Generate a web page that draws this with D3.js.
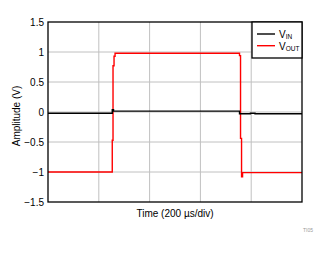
<!DOCTYPE html>
<html>
<head>
<meta charset="utf-8">
<script src="https://cdn.jsdelivr.net/npm/d3@7"></script>
<style>
  body { margin: 0; background: #fff; }
  text { font-family: "Liberation Sans", Arial, sans-serif; }
</style>
</head>
<body>
<div class="viz"></div>
<script>
const width = 335;
const height = 254;

// time in us, amplitude in V
const vinTime = [0, 253, 253, 258, 258, 754, 754, 797, 797, 815, 815, 1000];
const vinAmp = [-0.02, -0.02, 0.04, 0.04, 0.015, 0.015, -0.03, -0.03, -0.02, -0.02, -0.03, -0.03];
const voutTime = [0, 253, 253, 256, 256, 260, 260, 264, 264, 754, 754, 758, 758, 762, 762, 766, 766, 1000];
const voutAmp = [-1, -1, -0.47, -0.47, 0.77, 0.77, 0.93, 0.93, 0.98, 0.98, 0.94, 0.94, -0.44, -0.44, -1.08, -1.08, -1.01, -1.01];
const yTicks = [-1.5, -1, -0.5, 0, 0.5, 1, 1.5];
const xTicks = [0, 200, 400, 600, 800, 1000];

const margin = { left: 48, right: 33, top: 22, bottom: 52 };

const svg = d3.select(".viz")
    .append("svg")
    .attr("width", width)
    .attr("height", height);

const x = d3.scaleLinear().domain([0, 1000]).range([margin.left, width - margin.right]);
const y = d3.scaleLinear().domain([-1.5, 1.5]).range([height - margin.bottom, margin.top]);

// grid
svg.selectAll(".vgrid")
    .data(xTicks.slice(1, -1))
    .enter().append("line")
    .attr("x1", d => x(d)).attr("x2", d => x(d))
    .attr("y1", y(1.5)).attr("y2", y(-1.5))
    .style("stroke", "#c0c0c0").style("stroke-width", 1);

svg.selectAll(".hgrid")
    .data(yTicks.slice(1, -1))
    .enter().append("line")
    .attr("x1", x(0)).attr("x2", x(1000))
    .attr("y1", d => y(d)).attr("y2", d => y(d))
    .style("stroke", "#c0c0c0").style("stroke-width", 1);

// y axis labels
const yAxis = d3.axisLeft(y).tickValues(yTicks).tickSize(0).tickPadding(4).tickFormat(d3.format("~g"));
const ya = svg.append("g").attr("transform", `translate(${x(0)},0)`).call(yAxis);
ya.select(".domain").remove();
ya.selectAll("text").style("font-size", "10px").style("fill", "#000")
    .style("font-family", "'Liberation Sans', Arial, sans-serif");

const line = d3.line().x(d => x(d[0])).y(d => y(d[1]));

svg.append("path")
    .datum(voutTime.map((t, i) => [t, voutAmp[i]]))
    .attr("d", line)
    .style("fill", "none").style("stroke", "#ff0000").style("stroke-width", 1.4);

svg.append("path")
    .datum(vinTime.map((t, i) => [t, vinAmp[i]]))
    .attr("d", line)
    .style("fill", "none").style("stroke", "#000").style("stroke-width", 1.4);

// frame
svg.append("rect")
    .attr("x", x(0)).attr("y", y(1.5))
    .attr("width", x(1000) - x(0)).attr("height", y(-1.5) - y(1.5))
    .style("fill", "none").style("stroke", "#000").style("stroke-width", 1.3);

// legend
const lg = svg.append("g");
lg.append("rect")
    .attr("x", 252).attr("y", y(1.5))
    .attr("width", x(1000) - 252).attr("height", 36)
    .style("fill", "#fff").style("stroke", "#000").style("stroke-width", 1.3);
const legendItems = [["IN", "#000"], ["OUT", "#ff0000"]];
legendItems.forEach((d, i) => {
    const ly = 34 + i * 11.7;
    lg.append("line").attr("x1", 257).attr("x2", 275).attr("y1", ly).attr("y2", ly)
        .style("stroke", d[1]).style("stroke-width", 1.4);
    const t = lg.append("text").attr("x", 279).attr("y", ly + 4)
        .style("font-size", "10px").style("fill", "#000");
    t.append("tspan").text("V");
    t.append("tspan").text(d[0]).style("font-size", "6.5px").attr("dy", 1);
});

// axis titles
svg.append("text")
    .attr("x", x(500)).attr("y", 217)
    .attr("text-anchor", "middle")
    .style("font-size", "10px")
    .text("Time (200 µs/div)");

svg.append("text")
    .attr("transform", `translate(20,116) rotate(-90)`)
    .attr("text-anchor", "middle")
    .style("font-size", "10px")
    .text("Amplitude (V)");

svg.append("text")
    .attr("x", 313).attr("y", 232)
    .attr("text-anchor", "end")
    .style("font-size", "5px").style("fill", "#999")
    .text("TI05");
</script>
</body>
</html>
